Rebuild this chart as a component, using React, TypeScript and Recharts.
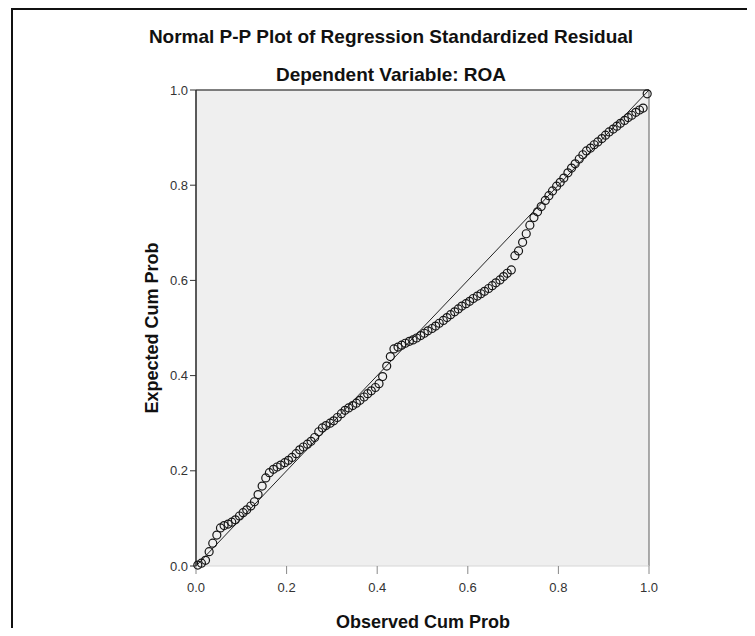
import React from "react";
import {
    ScatterChart,
    Scatter,
    XAxis,
    YAxis,
    CartesianGrid,
    ReferenceLine,
} from "recharts";

// Observed cumulative probability (x) of each standardized residual
const obsCum = [
    0.004, 0.012, 0.021, 0.029, 0.037, 0.046, 0.054, 0.062, 0.071, 0.079,
    0.087, 0.096, 0.104, 0.112, 0.121, 0.129, 0.137, 0.146, 0.154, 0.162,
    0.171, 0.179, 0.187, 0.196, 0.204, 0.212, 0.221, 0.229, 0.237, 0.246,
    0.254, 0.262, 0.271, 0.279, 0.287, 0.296, 0.304, 0.312, 0.321, 0.329,
    0.337, 0.346, 0.354, 0.362, 0.371, 0.379, 0.387, 0.396, 0.404, 0.412,
    0.421, 0.429, 0.437, 0.446, 0.454, 0.462, 0.471, 0.479, 0.487, 0.496,
    0.504, 0.512, 0.521, 0.529, 0.537, 0.546, 0.554, 0.562, 0.571, 0.579,
    0.587, 0.596, 0.604, 0.612, 0.621, 0.629, 0.637, 0.646, 0.654, 0.662,
    0.671, 0.679, 0.687, 0.696, 0.704, 0.712, 0.721, 0.729, 0.737, 0.746,
    0.754, 0.762, 0.771, 0.779, 0.787, 0.796, 0.804, 0.812, 0.821, 0.829,
    0.837, 0.846, 0.854, 0.862, 0.871, 0.879, 0.887, 0.896, 0.904, 0.912,
    0.921, 0.929, 0.937, 0.946, 0.954, 0.962, 0.971, 0.979, 0.987, 0.996,
];

// Expected cumulative probability (y)
const expCum = [
    0.002, 0.006, 0.012, 0.03, 0.048, 0.065, 0.08, 0.085, 0.088, 0.092,
    0.097, 0.105, 0.112, 0.118, 0.126, 0.135, 0.15, 0.168, 0.185, 0.196,
    0.203, 0.208, 0.212, 0.217, 0.222, 0.228, 0.236, 0.244, 0.25, 0.256,
    0.262, 0.27, 0.282, 0.29, 0.295, 0.3, 0.305, 0.312, 0.32, 0.327,
    0.332, 0.337, 0.342, 0.348, 0.355, 0.362, 0.368, 0.375, 0.383, 0.398,
    0.42, 0.44, 0.456, 0.46, 0.464, 0.468, 0.472, 0.475, 0.479, 0.484,
    0.489, 0.494, 0.499, 0.504, 0.51, 0.516, 0.522, 0.528, 0.534, 0.54,
    0.546, 0.551, 0.556, 0.562, 0.567, 0.572, 0.577, 0.583, 0.589, 0.595,
    0.601, 0.608, 0.615, 0.622, 0.652, 0.662, 0.68, 0.698, 0.716, 0.732,
    0.744, 0.755, 0.768, 0.778, 0.788, 0.798, 0.806, 0.815, 0.826, 0.836,
    0.845, 0.855, 0.864, 0.872, 0.878, 0.885, 0.891, 0.898, 0.905, 0.912,
    0.918, 0.924, 0.93, 0.936, 0.942, 0.947, 0.953, 0.958, 0.962, 0.992,
];

const axisTicks = [0, 0.2, 0.4, 0.6, 0.8, 1.0];

const data = obsCum.map((x, i) => ({ x, y: expCum[i] }));

const FONT = "'Liberation Sans', Arial, sans-serif";

const OpenCircle = (props: any) => (
    <circle
        cx={props.cx}
        cy={props.cy}
        r={4}
        fill="none"
        stroke="#161616"
        strokeWidth={1.2}
    />
);

export default function App() {
    return (
        <div
            style={{
                position: "relative",
                width: 755,
                height: 636,
                margin: -8,
                overflow: "hidden",
                background: "#fff",
                fontFamily: FONT,
            }}
        >
            {/* frame around the output */}
            <div
                style={{
                    position: "absolute",
                    left: 11,
                    top: 8,
                    width: 800,
                    height: 700,
                    border: "2px solid #111",
                }}
            />
            <div style={{ position: "absolute", left: 0, top: 0 }}>
                <ScatterChart
                    width={755}
                    height={636}
                    margin={{ top: 90, right: 106, bottom: 40, left: 156 }}
                >
                    <CartesianGrid
                        fill="#efefef"
                        horizontal={false}
                        vertical={false}
                    />
                    <XAxis
                        type="number"
                        dataKey="x"
                        domain={[0, 1]}
                        ticks={axisTicks}
                        tickFormatter={(v: number) => v.toFixed(1)}
                        height={30}
                        tickSize={8}
                        tickMargin={9}
                        axisLine={{ stroke: "#d6d6d6", strokeWidth: 1 }}
                        tickLine={{ stroke: "#888" }}
                        tick={{ fill: "#333", fontSize: 13, fontFamily: FONT }}
                    />
                    <YAxis
                        type="number"
                        dataKey="y"
                        domain={[0, 1]}
                        ticks={axisTicks}
                        tickFormatter={(v: number) => v.toFixed(1)}
                        width={40}
                        tickSize={6}
                        tickMargin={2}
                        axisLine={{ stroke: "#333", strokeWidth: 1.6 }}
                        tickLine={{ stroke: "#333" }}
                        tick={{ fill: "#333", fontSize: 13, fontFamily: FONT }}
                    />
                    <ReferenceLine y={1} stroke="#555" strokeWidth={1.6} />
                    <ReferenceLine x={1} stroke="#888" strokeWidth={1.4} />
                    <ReferenceLine
                        segment={[
                            { x: 0, y: 0 },
                            { x: 1, y: 1 },
                        ]}
                        stroke="#222"
                        strokeWidth={1}
                    />
                    <Scatter
                        data={data}
                        shape={OpenCircle}
                        isAnimationActive={false}
                    />
                </ScatterChart>
            </div>
            <svg
                width={755}
                height={636}
                style={{ position: "absolute", left: 0, top: 0, pointerEvents: "none" }}
                fontFamily={FONT}
            >
                <text
                    x={391}
                    y={43}
                    textAnchor="middle"
                    fontSize={19}
                    fontWeight="bold"
                    fill="#111"
                >
                    Normal P-P Plot of Regression Standardized Residual
                </text>
                <text
                    x={391}
                    y={81}
                    textAnchor="middle"
                    fontSize={19}
                    fontWeight="bold"
                    fill="#111"
                >
                    Dependent Variable: ROA
                </text>
                <text
                    x={423}
                    y={628}
                    textAnchor="middle"
                    fontSize={18}
                    fontWeight="bold"
                    fill="#111"
                >
                    Observed Cum Prob
                </text>
                <text
                    x={158}
                    y={328}
                    textAnchor="middle"
                    fontSize={18}
                    fontWeight="bold"
                    fill="#111"
                    transform="rotate(-90 158 328)"
                >
                    Expected Cum Prob
                </text>
            </svg>
        </div>
    );
}
